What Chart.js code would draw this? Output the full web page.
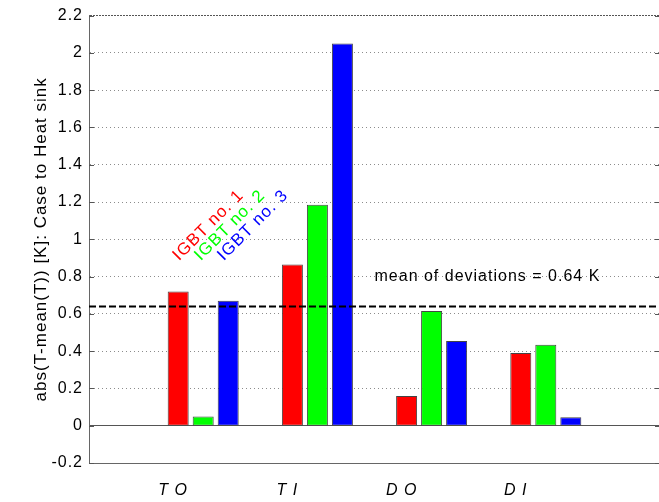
<!DOCTYPE html>
<html>
<head>
<meta charset="utf-8">
<script src="https://cdn.jsdelivr.net/npm/chart.js@4/dist/chart.umd.min.js"></script>
<style>
  html, body { margin: 0; padding: 0; background: #fff; overflow: hidden; }
  #wrap { width: 660px; height: 502px; }
</style>
</head>
<body>
<div id="wrap"><canvas id="chart" width="660" height="502"></canvas></div>
<script>
const categories = ['T O', 'T I', 'D O', 'D I'];
const igbt1 = [0.72, 0.865, 0.16, 0.39];
const igbt2 = [0.05, 1.185, 0.615, 0.435];
const igbt3 = [0.67, 2.05, 0.455, 0.045];
const seriesNames = ['IGBT no. 1', 'IGBT no. 2', 'IGBT no. 3'];
const seriesColors = ['#ff0000', '#00ff00', '#0000ff'];
const meanDeviation = 0.64;
const yMin = -0.2;
const yMax = 2.2;
const yStep = 0.2;

const FONT = "'Liberation Sans', Arial, Helvetica, sans-serif";

// one empty slot on each side so the axis runs from 0 to 5 like the original
const xLabels = ['', ...categories, ''];
const pad = (arr) => [null, ...arr, null];

const isAt = (v, t) => Math.abs(v - t) < 1e-6;

const extras = {
  id: 'extras',
  beforeDraw(chart) {
    chart.ctx.letterSpacing = '1px';
  },
  afterDraw(chart) {
    const { ctx, chartArea, scales: { x, y } } = chart;
    ctx.save();
    ctx.letterSpacing = '1px';

    // inward tick marks on both sides
    ctx.strokeStyle = '#555';
    ctx.lineWidth = 1;
    y.ticks.forEach((t) => {
      const py = Math.round(y.getPixelForValue(t.value)) + 0.5;
      ctx.beginPath();
      ctx.moveTo(chartArea.left, py);
      ctx.lineTo(chartArea.left + 5, py);
      ctx.moveTo(chartArea.right - 5, py);
      ctx.lineTo(chartArea.right, py);
      ctx.stroke();
    });

    // mean text
    ctx.fillStyle = '#000';
    ctx.font = '16px ' + FONT;
    ctx.textAlign = 'left';
    ctx.textBaseline = 'middle';
    ctx.fillText('mean of deviations = ' + meanDeviation.toFixed(2) + ' K',
      x.getPixelForValue(2.5), y.getPixelForValue(0.8));

    // rotated series labels over the first group
    const labelX = [0.76, 0.95, 1.15];
    ctx.font = '17px ' + FONT;
    seriesNames.forEach((name, i) => {
      ctx.save();
      ctx.translate(x.getPixelForValue(labelX[i]), y.getPixelForValue(0.9));
      ctx.rotate(-Math.PI / 4);
      ctx.fillStyle = seriesColors[i];
      ctx.fillText(name, 0, 0);
      ctx.restore();
    });
    ctx.restore();
  },
};

const barSet = (label, data, color) => ({
  type: 'bar',
  label,
  data: pad(data),
  backgroundColor: color,
  borderColor: '#444',
  borderWidth: 1,
  borderSkipped: false,
  categoryPercentage: 0.657,
  barPercentage: 0.84,
  order: 1,
});

new Chart(document.getElementById('chart'), {
  type: 'bar',
  data: {
    labels: xLabels,
    datasets: [
      barSet(seriesNames[0], igbt1, seriesColors[0]),
      barSet(seriesNames[1], igbt2, seriesColors[1]),
      barSet(seriesNames[2], igbt3, seriesColors[2]),
      {
        type: 'line',
        label: 'mean',
        data: xLabels.map(() => meanDeviation),
        borderColor: '#000',
        borderWidth: 2,
        borderDash: [7, 3],
        pointRadius: 0,
        fill: false,
        order: 0,
      },
    ],
  },
  options: {
    responsive: false,
    animation: false,
    devicePixelRatio: 1,
    layout: { padding: { top: 15, right: 0, bottom: 0, left: 0 } },
    plugins: {
      legend: { display: false },
      tooltip: { enabled: false },
    },
    scales: {
      x: {
        type: 'category',
        offset: false,
        grid: { display: false, offset: false, drawTicks: true, tickLength: 18 },
        border: { display: true, color: '#666', width: 1 },
        ticks: {
          color: '#000',
          font: { family: FONT, size: 16, style: 'italic' },
          padding: 0,
          labelOffset: -30,
          maxRotation: 0,
          autoSkip: false,
        },
        afterFit(scale) { scale.height = 39; },
      },
      y: {
        min: yMin,
        max: yMax,
        grid: {
          drawTicks: false,
          lineWidth: 1,
          color: (c) => {
            const v = c.tick ? c.tick.value : 0;
            if (isAt(v, 0) || isAt(v, yMax) || isAt(v, yMin)) return '#555';
            return '#8c8c8c';
          },
        },
        border: {
          display: true,
          color: '#666',
          width: 1,
          dash: (c) => {
            const v = c.tick ? c.tick.value : 0;
            if (isAt(v, 0) || isAt(v, yMin)) return [];
            if (isAt(v, yMax)) return [2, 1];
            return [1, 3];
          },
        },
        ticks: {
          stepSize: yStep,
          color: '#000',
          padding: 6,
          font: { family: FONT, size: 16 },
          callback: (v) => String(parseFloat(Number(v).toFixed(1))),
        },
        title: {
          display: true,
          text: 'abs(T-mean(T)) [K]: Case to Heat sink',
          color: '#000',
          font: { family: FONT, size: 17 },
          padding: { top: 31, bottom: 0 },
        },
        afterFit(scale) { scale.width = 89; },
      },
    },
  },
  plugins: [extras],
});
</script>
</body>
</html>
